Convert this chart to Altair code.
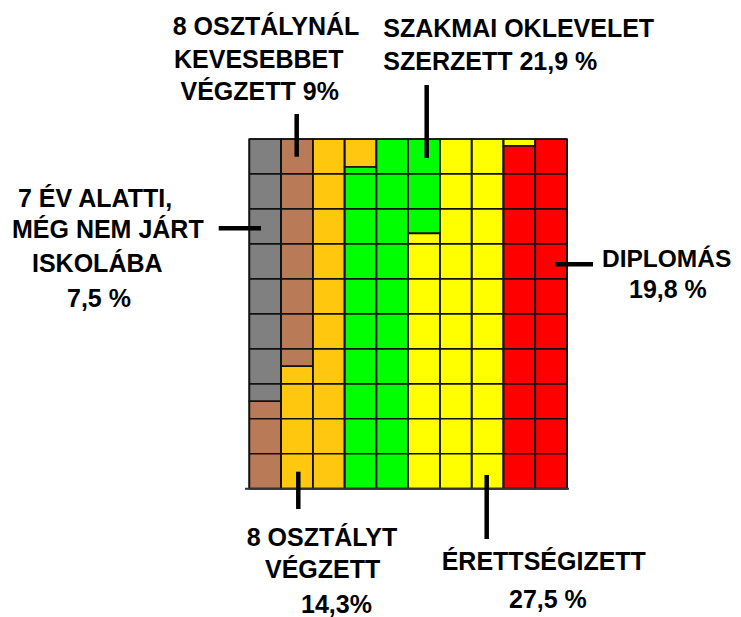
import altair as alt
import pandas as pd

# ---- data -------------------------------------------------------------
categories = [
    "7 év alatti, még nem járt iskolába",
    "8 osztálynál kevesebbet végzett",
    "8 osztályt végzett",
    "Szakmai oklevelet szerzett",
    "Érettségizett",
    "Diplomás",
]
values = [7.5, 9.0, 14.3, 21.9, 27.5, 19.8]
colors = ["#808080", "#B97A57", "#FFC80E", "#00FF00", "#FFFF00", "#FF0000"]

# ---- waffle segments (10 columns x 10 cells, filled top-down, left-right)
N_COLS = 10
seg_rows = []
cum = 0.0
for cat, v in zip(categories, values):
    a, b = cum, cum + v
    cum = b
    for c in range(N_COLS):
        lo = max(a, 10 * c)
        hi = min(b, 10 * c + 10)
        if hi > lo + 1e-9:
            seg_rows.append(dict(cat=cat, x=c, x2=c + 1,
                                 y=10 - (lo - 10 * c), y2=10 - (hi - 10 * c)))
seg = pd.DataFrame(seg_rows)

# ---- layout (page pixels) ---------------------------------------------
W, H, M = 725, 609, 8
GRID_L, GRID_R, GRID_T, GRID_B = 249.3, 567.0, 139.0, 488.7
cw = (GRID_R - GRID_L) / 10
rh = (GRID_B - GRID_T) / 10


def px_x(p):
    return (p - GRID_L) / cw


def px_y(p):
    return (GRID_B - p) / rh


xs = alt.Scale(domain=[px_x(M), px_x(M + W)], nice=False, zero=False)
ys = alt.Scale(domain=[px_y(M + H), px_y(M)], nice=False, zero=False)

# grid lines
grid_rows = []
for k in range(11):
    grid_rows.append(dict(x=0, x2=10, y=k, y2=k))
    grid_rows.append(dict(x=k, x2=k, y=0, y2=10))
grid = pd.DataFrame(grid_rows)

# leader lines (page pixel coordinates)
leaders_px = [
    (296.7, 114, 296.7, 156.7),
    (426.7, 85, 426.7, 158),
    (218.7, 228.3, 261, 228.3),
    (555, 264.3, 593, 264.3),
    (298.3, 471.7, 298.3, 509),
    (486.7, 475, 486.7, 539),
]
leaders = pd.DataFrame([dict(x=px_x(a), y=px_y(b), x2=px_x(c), y2=px_y(d))
                        for a, b, c, d in leaders_px])

# annotation texts (left x, baseline y in page pixels, font size)
label_lines = [
    ("8 OSZTÁLYNÁL", 172.7, 35, 25),
    ("KEVESEBBET", 174, 68.3, 25),
    ("VÉGZETT  9%", 180.5, 100, 25),
    ("SZAKMAI OKLEVELET", 383.3, 37.3, 25),
    ("SZERZETT  21,9 %", 383.3, 70, 25),
    ("7 ÉV ALATTI,", 18, 207.3, 25),
    ("MÉG NEM JÁRT", 12, 238.3, 25),
    ("ISKOLÁBA", 32, 271.7, 25),
    ("7,5 %", 67, 306.7, 25),
    ("DIPLOMÁS", 602, 266.7, 24.5),
    ("19,8 %", 629, 298.3, 25),
    ("8 OSZTÁLYT", 246.7, 546, 25),
    ("VÉGZETT", 265, 578.3, 25),
    ("14,3%", 301, 613, 25),
    ("ÉRETTSÉGIZETT", 441.7, 570, 25),
    ("27,5 %", 509, 608.3, 25),
]
labels = pd.DataFrame([dict(t=t, x=px_x(a), y=px_y(b), s=s)
                       for t, a, b, s in label_lines])

# ---- chart ------------------------------------------------------------
X = lambda f: alt.X(f, type="quantitative", scale=xs, axis=None)
Y = lambda f: alt.Y(f, type="quantitative", scale=ys, axis=None)

rects = alt.Chart(seg).mark_rect(stroke="#111111", strokeWidth=1.6).encode(
    x=X("x"), x2="x2", y=Y("y"), y2="y2",
    color=alt.Color("cat:N", scale=alt.Scale(domain=categories, range=colors),
                    legend=None),
)

grid_layer = alt.Chart(grid).mark_rule(color="#111111", strokeWidth=1.7).encode(
    x=X("x"), x2="x2", y=Y("y"), y2="y2"
)

base_line = alt.Chart(pd.DataFrame([dict(x=px_x(245), x2=px_x(569), y=0, y2=0)])
                      ).mark_rule(color="#333333", strokeWidth=2).encode(
    x=X("x"), x2="x2", y=Y("y"), y2="y2"
)

leader_layer = alt.Chart(leaders).mark_rule(color="black", strokeWidth=4.5,
                                            strokeCap="butt").encode(
    x=X("x"), x2="x2", y=Y("y"), y2="y2"
)

text_layer = alt.Chart(labels).mark_text(
    align="left", baseline="alphabetic", font="Liberation Sans",
    fontWeight="bold", color="black"
).encode(x=X("x"), y=Y("y"), text="t:N",
         size=alt.Size("s:Q", scale=None, legend=None))

chart = alt.layer(rects, grid_layer, base_line, leader_layer, text_layer).properties(
    width=W, height=H, autosize="none", padding=0, background="white"
).configure_view(stroke=None)

chart.save("out.html", embed_options={"renderer": "svg", "actions": False})
